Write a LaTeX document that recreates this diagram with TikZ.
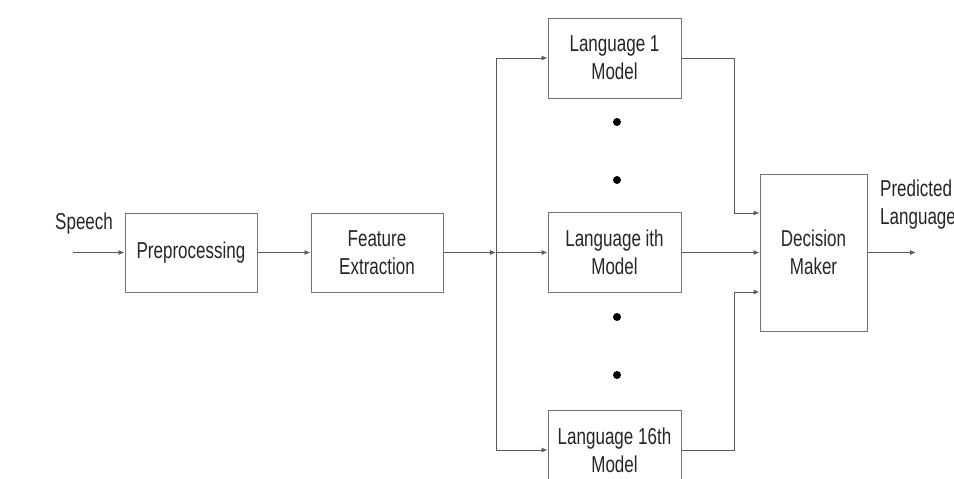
\documentclass[tikz,border=0pt]{standalone}
\usepackage{fontspec}
\setmainfont{Liberation Sans}
\usetikzlibrary{arrows.meta,calc}
\newcommand{\nx}[1]{\scalebox{0.74}[1]{#1}}
\tikzset{
  box/.style={draw=black!55, line width=1pt, fill=white, minimum width=132pt, minimum height=79pt, inner sep=0pt, align=center, text=black!85, font=\fontsize{23}{28}\selectfont},
  lbl/.style={inner sep=0pt, align=left, text=black!85, font=\fontsize{23}{28}\selectfont},
  conn/.style={draw=black!65, line width=1pt},
  arr/.style={conn, -{Latex[length=6pt,width=5pt]}},
  dot/.style={circle, fill=black, inner sep=0pt, minimum size=8pt}
}
\begin{document}
\begin{tikzpicture}[x=1pt,y=-1pt]
\clip (0,0) rectangle (954,479);
\fill[white] (0,0) rectangle (954,479);
% boxes
\node[box] (pre) at (191,252.5) {\nx{Preprocessing}};
\node[box] (fe) at (377,252.5) {\nx{Feature}\\\nx{Extraction}};
\node[box, minimum width=133pt, minimum height=80pt] (l1) at (614.5,58) {\nx{Language 1}\\\nx{Model}};
\node[box, minimum width=133pt, minimum height=80pt] (li) at (614.5,252.5) {\nx{Language ith}\\\nx{Model}};
\node[box, minimum width=133pt, minimum height=80pt] (l16) at (614.5,450) {\nx{Language 16th}\\\nx{Model}};
\node[box, minimum width=107pt, minimum height=157pt] (dm) at (813.5,252.5) {\nx{Decision}\\\nx{Maker}};
% dots
\node[dot] (d1) at (617,122) {};
\node[dot] (d2) at (617,180) {};
\node[dot] (d3) at (617,317) {};
\node[dot] (d4) at (617,375) {};
% labels
\node[lbl, anchor=base west] (sp) at (55,229) {\nx{Speech}};
\node[lbl, anchor=west] (pl) at (880,205) {\nx{Predicted}\\\nx{Language}};
% coordinates
\coordinate (in) at (73,252.5);
\coordinate (j) at (496,252.5);
\coordinate (bx) at (734,0);
\coordinate (out) at (916,252.5);
% connectors
\draw[arr] (in) -- (pre.west);
\draw[arr] (pre.east) -- (fe.west);
\draw[arr] (fe.east) -- (j);
\draw[conn] (j |- l1.west) -- (j |- l16.west);
\draw[arr] (j |- l1.west) -- (l1.west);
\draw[arr] (j) -- (li.west);
\draw[arr] (j |- l16.west) -- (l16.west);
\draw[arr] (l1.east) -- (bx |- l1.east) -- ($(bx |- dm.west)+(0,-39.5)$) -- ($(dm.west)+(0,-39.5)$);
\draw[arr] (li.east) -- (dm.west);
\draw[arr] (l16.east) -- (bx |- l16.east) -- ($(bx |- dm.west)+(0,39.5)$) -- ($(dm.west)+(0,39.5)$);
\draw[arr] (dm.east) -- (out);
\end{tikzpicture}
\end{document}
